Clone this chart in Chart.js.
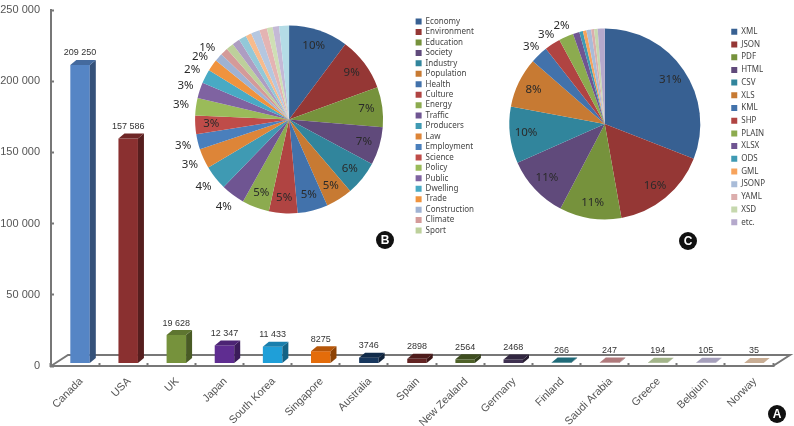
<!DOCTYPE html>
<html>
<head>
<meta charset="utf-8">
<script src="https://cdn.jsdelivr.net/npm/chart.js@4"></script>
<style>
    html, body { margin: 0; padding: 0; background: #fff; }
    #page { position: relative; width: 794px; height: 426px; overflow: hidden; }
    canvas { position: absolute; }
    .badge {
        position: absolute; width: 18px; height: 18px; border-radius: 50%;
        background: #111; color: #fff; text-align: center;
        font: bold 12px/18px "Liberation Sans", sans-serif;
    }
</style>
</head>
<body>
<div id="page">
    <canvas id="barChart" width="794" height="426" style="left:0;top:0"></canvas>
    <canvas id="pieB" width="319" height="235" style="left:165px;top:2px"></canvas>
    <canvas id="pieC" width="292" height="214" style="left:483px;top:17px"></canvas>
    <div class="badge" style="left:376px;top:231px">B</div>
    <div class="badge" style="left:679px;top:232px">C</div>
    <div class="badge" style="left:768px;top:405px">A</div>
</div>
<script>
const countries = ["Canada", "USA", "UK", "Japan", "South Korea", "Singapore", "Australia", "Spain",
    "New Zealand", "Germany", "Finland", "Saudi Arabia", "Greece", "Belgium", "Norway"];
const portals = [209250, 157586, 19628, 12347, 11433, 8275, 3746, 2898, 2564, 2468, 266, 247, 194, 105, 35];
const barColors = ["#5585c5", "#8a3030", "#76923c", "#5f2d91", "#1f9fd8", "#e46c0a", "#17375e", "#632423",
    "#4f6228", "#3f3151", "#1f6a78", "#b07a7c", "#a3b58a", "#a6a0bc", "#c8ad94"];

const topicLabels = ["Economy", "Environment", "Education", "Society", "Industry", "Population", "Health",
    "Culture", "Energy", "Traffic", "Producers", "Law", "Employment", "Science", "Policy", "Public",
    "Dwelling", "Trade", "Construction", "Climate", "Sport"];
// 8 more slices have no legend entry in the picture
const topicValues = [10.2, 9.2, 6.9, 6.5, 5.9, 4.6, 5.2, 4.9, 4.7, 4.1, 4.2, 3.4, 2.6, 3.2, 3, 2.7, 2.4, 2,
    1.4, 1.3, 1.3, 1.3, 1.3, 1.0, 1.5, 1.3, 1.0, 1.1, 1.7];
const topicPercents = [10, 9, 7, 7, 6, 5, 5, 5, 5, 4, 4, 3, 3, 3, 3, 3, 2, 2, 1];
const topicInside = [0, 1, 2, 3, 4, 5, 6, 7, 8, 13];

const formatLabels = ["XML", "JSON", "PDF", "HTML", "CSV", "XLS", "KML", "SHP", "PLAIN", "XLSX", "ODS", "GML",
    "JSONP", "YAML", "XSD", "etc."];
const formatValues = [31, 16.3, 10.5, 10.7, 9.6, 8.5, 3, 2.7, 2.5, 1.1, 0.6, 0.6, 0.8, 0.5, 0.6, 1.2];
const formatPercents = [31, 16, 11, 11, 10, 8, 3, 3, 2];
const formatInside = [0, 1, 2, 3, 4, 5];

const pieColors = ["#376092", "#953735", "#76923c", "#604a7b", "#31859c", "#c77a33", "#4272ab", "#b04442",
    "#8cab4f", "#6f5592", "#3f9ab3", "#dd8538", "#4a7fbc", "#bf4c49", "#9abb59", "#7f63a1", "#48aac4",
    "#f0933e", "#9fb2d3", "#d49a99", "#bdd09b", "#ae9dc2", "#92c8d8", "#f7bb8d", "#b5c7e0", "#e4b4b3",
    "#cfdfb5", "#c4b9d6", "#b4dce6"];
const formatColors = pieColors.slice(0, 11).concat("#f7a35c", "#a9bcd8", "#dcaead", "#c6d8ae", "#b5a9cc");

const AXIS_FONT = '"Liberation Sans", sans-serif';
const AXIS_GRAY = "#777777";
const DEPTH_X = 6;
const DEPTH_Y = 5;
const FLOOR_X = 17;
const FLOOR_Y = 11;
const BAR_SHIFT = 5;

function shade(hex, f) {
    const n = parseInt(hex.slice(1), 16);
    const c = [n >> 16, (n >> 8) & 255, n & 255].map(v => Math.round(v * f));
    return `rgb(${c[0]},${c[1]},${c[2]})`;
}

function spaced(v) {
    return v >= 10000 ? String(v).replace(/(\d{3})$/, " $1") : String(v);
}

// floor of the 3D box, side and top faces of the bars, value labels
const bars3d = {
    id: "bars3d",
    beforeDatasetsDraw(chart) {
        const ctx = chart.ctx;
        const a = chart.chartArea;
        ctx.save();
        ctx.strokeStyle = AXIS_GRAY;
        ctx.lineWidth = 2;
        ctx.beginPath();
        ctx.moveTo(a.left, a.bottom);
        ctx.lineTo(a.left + FLOOR_X, a.bottom - FLOOR_Y);
        ctx.lineTo(a.right + FLOOR_X, a.bottom - FLOOR_Y);
        ctx.lineTo(a.right, a.bottom);
        ctx.stroke();
        ctx.restore();
        ctx.save();
        ctx.translate(BAR_SHIFT, 0);
    },
    afterDatasetsDraw(chart) {
        const ctx = chart.ctx;
        chart.getDatasetMeta(0).data.forEach((bar, i) => {
            const p = bar.getProps(["x", "y", "base", "width"], true);
            const l = p.x - p.width / 2;
            const r = p.x + p.width / 2;
            ctx.fillStyle = shade(barColors[i], 0.62);
            ctx.beginPath();
            ctx.moveTo(r, p.y);
            ctx.lineTo(r + DEPTH_X, p.y - DEPTH_Y);
            ctx.lineTo(r + DEPTH_X, p.base - DEPTH_Y);
            ctx.lineTo(r, p.base);
            ctx.closePath();
            ctx.fill();
            ctx.fillStyle = i < 10 ? shade(barColors[i], 0.8) : barColors[i];
            ctx.beginPath();
            ctx.moveTo(l, p.y);
            ctx.lineTo(l + DEPTH_X, p.y - DEPTH_Y);
            ctx.lineTo(r + DEPTH_X, p.y - DEPTH_Y);
            ctx.lineTo(r, p.y);
            ctx.closePath();
            ctx.fill();
            ctx.fillStyle = "#333";
            ctx.font = "9px " + AXIS_FONT;
            ctx.textAlign = "center";
            ctx.textBaseline = "middle";
            ctx.fillText(spaced(portals[i]), p.x, p.y - DEPTH_Y - 7);
        });
        ctx.restore();
    }
};

// percent labels, inside the slice or just outside the pie
const pieLabels = {
    id: "pieLabels",
    afterDatasetsDraw(chart, args, opts) {
        const ctx = chart.ctx;
        ctx.save();
        ctx.font = '11.5px "Noto Sans", sans-serif';
        ctx.fillStyle = "#2a2a2a";
        ctx.textAlign = "center";
        ctx.textBaseline = "middle";
        opts.percents.forEach((pct, i) => {
            const arc = chart.getDatasetMeta(0).data[i];
            const p = arc.getProps(["x", "y", "startAngle", "endAngle", "outerRadius"], true);
            const mid = (p.startAngle + p.endAngle) / 2;
            const k = opts.inside.includes(i) ? 0.83 : opts.outside;
            ctx.fillText(pct + "%", p.x + Math.cos(mid) * p.outerRadius * k, p.y + Math.sin(mid) * p.outerRadius * k);
        });
        ctx.restore();
    }
};

new Chart(document.getElementById("barChart"), {
    type: "bar",
    data: {
        labels: countries,
        datasets: [{
            data: portals,
            yAxisID: "y1",
            backgroundColor: barColors,
            barPercentage: 0.405,
            categoryPercentage: 1
        }]
    },
    plugins: [bars3d],
    options: {
        responsive: false,
        animation: false,
        layout: { padding: { top: 10, right: 21 } },
        plugins: { legend: { display: false }, tooltip: { enabled: false } },
        scales: {
            x: {
                afterFit(scale) { scale.height = 60; },
                grid: { drawOnChartArea: false, tickColor: AXIS_GRAY, tickWidth: 2, tickLength: -3 },
                border: { color: AXIS_GRAY, width: 2 },
                ticks: {
                    autoSkip: false, minRotation: 45, maxRotation: 45, labelOffset: 6, padding: 12,
                    color: "#555", font: { family: AXIS_FONT, size: 10.8 }
                }
            },
            y: {
                min: 0, max: 250000,
                // tick padding would otherwise push the top of the plot down
                afterFit(scale) { scale.width = 51; scale.paddingTop = 0; scale.paddingBottom = 0; },
                grid: { drawOnChartArea: false, tickColor: AXIS_GRAY, tickWidth: 2, tickLength: -3 },
                border: { color: AXIS_GRAY, width: 2 },
                ticks: {
                    stepSize: 50000, padding: 14, color: "#555",
                    font: { family: AXIS_FONT, size: 11 },
                    callback: v => spaced(v)
                }
            },
            // the bars stand a little behind the front edge of the floor
            y1: { display: false, min: -2125, max: 247875 }
        }
    }
});

function makePie(id, labels, values, colors, percents, inside, radius, rowGap, outside) {
    return new Chart(document.getElementById(id), {
        type: "pie",
        data: {
            labels: labels,
            datasets: [{ data: values, backgroundColor: colors, borderWidth: 0, radius: radius }]
        },
        plugins: [pieLabels],
        options: {
            responsive: false,
            animation: false,
            plugins: {
                tooltip: { enabled: false },
                pieLabels: { percents: percents, inside: inside, outside: outside },
                legend: {
                    position: "right",
                    align: "end",
                    labels: {
                        boxWidth: 6, boxHeight: 6, padding: rowGap, color: "#444",
                        font: { family: '"Noto Sans", sans-serif', size: 8, lineHeight: 1 }
                    }
                }
            }
        }
    });
}

makePie("pieB", topicLabels, topicValues, pieColors, topicPercents, topicInside, 94, 2.45, 1.16);
makePie("pieC", formatLabels, formatValues, formatColors, formatPercents, formatInside, 95.5, 4.7, 1.12);
</script>
</body>
</html>
